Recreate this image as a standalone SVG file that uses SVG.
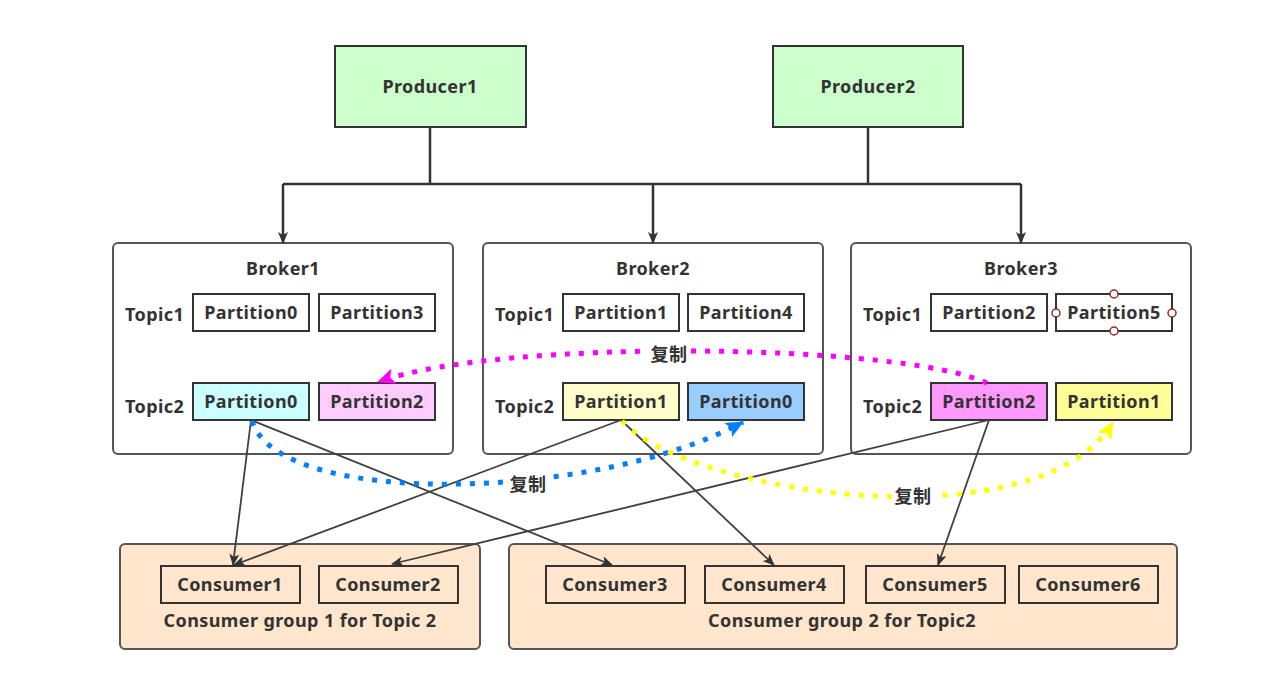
<svg xmlns="http://www.w3.org/2000/svg" width="1268" height="680" viewBox="0 0 1268 680">
<defs>
<marker id="arr" viewBox="0 0 12 10" refX="11" refY="5" markerWidth="12" markerHeight="10" markerUnits="userSpaceOnUse" orient="auto">
<path d="M0,0 L12,5 L0,10 L3,5 z" fill="#333"/>
</marker>
<marker id="arrM" viewBox="0 0 18 16" refX="17" refY="8" markerWidth="18" markerHeight="16" markerUnits="userSpaceOnUse" orient="auto">
<path d="M0,0 L18,8 L0,16 L4,8 z" fill="#ff00ff"/>
</marker>
<marker id="arrB" viewBox="0 0 18 16" refX="17" refY="8" markerWidth="18" markerHeight="16" markerUnits="userSpaceOnUse" orient="auto">
<path d="M0,0 L18,8 L0,16 L4,8 z" fill="#007fff"/>
</marker>
<marker id="arrY" viewBox="0 0 18 16" refX="17" refY="8" markerWidth="18" markerHeight="16" markerUnits="userSpaceOnUse" orient="auto">
<path d="M0,0 L18,8 L0,16 L4,8 z" fill="#ffff00"/>
</marker>
</defs>
<style>
text{font-family:"Noto Sans","Noto Sans CJK SC",sans-serif;font-weight:bold;font-size:18px;letter-spacing:0.4px;fill:#333;}
.c{text-anchor:middle;}
.box{stroke:#333;stroke-width:2;}
.broker{fill:#fff;stroke:#555;stroke-width:2;}
.grp{fill:#ffe6cc;stroke:#555;stroke-width:2;}
.ln{fill:none;stroke:#404040;stroke-width:1.8;}
.dot{fill:none;stroke-width:5;stroke-dasharray:5 9;}
.h{fill:#fff;stroke:#8b2a2a;stroke-width:1.5;}
</style>
<rect width="1268" height="680" fill="#fff"/>

<g id="producer1"><rect class="box" x="335" y="46" width="191" height="81" fill="#ccffcc"/><text class="c" x="430" y="93">Producer1</text></g>
<g id="producer2"><rect class="box" x="773" y="46" width="190" height="81" fill="#ccffcc"/><text class="c" x="868" y="93">Producer2</text></g>

<g id="broker1"><rect class="broker" x="113" y="243" width="340" height="211" rx="5"/>
<text class="c" x="283" y="275">Broker1</text>
<text x="125" y="321">Topic1</text><text x="125" y="413">Topic2</text>
<rect class="box" x="193" y="294" width="116" height="37" fill="#fff"/><text class="c" x="251" y="319">Partition0</text>
<rect class="box" x="319" y="294" width="116" height="37" fill="#fff"/><text class="c" x="377" y="319">Partition3</text>
<rect class="box" x="193" y="383" width="116" height="37" fill="#ccffff"/><text class="c" x="251" y="408">Partition0</text>
<rect class="box" x="319" y="383" width="116" height="37" fill="#ffccff"/><text class="c" x="377" y="408">Partition2</text>
</g>
<g id="broker2"><rect class="broker" x="483" y="243" width="340" height="211" rx="5"/>
<text class="c" x="653" y="275">Broker2</text>
<text x="495" y="321">Topic1</text><text x="495" y="413">Topic2</text>
<rect class="box" x="563" y="294" width="116" height="37" fill="#fff"/><text class="c" x="621" y="319">Partition1</text>
<rect class="box" x="688" y="294" width="116" height="37" fill="#fff"/><text class="c" x="746" y="319">Partition4</text>
<rect class="box" x="563" y="383" width="116" height="37" fill="#ffffcc"/><text class="c" x="621" y="408">Partition1</text>
<rect class="box" x="688" y="383" width="116" height="37" fill="#99ccff"/><text class="c" x="746" y="408">Partition0</text>
</g>
<g id="broker3"><rect class="broker" x="851" y="243" width="340" height="211" rx="5"/>
<text class="c" x="1021" y="275">Broker3</text>
<text x="863" y="321">Topic1</text><text x="863" y="413">Topic2</text>
<rect class="box" x="931" y="294" width="116" height="37" fill="#fff"/><text class="c" x="989" y="319">Partition2</text>
<rect class="box" x="1056" y="294" width="116" height="37" fill="#fff"/><text class="c" x="1114" y="319">Partition5</text>
<circle class="h" cx="1114" cy="294" r="4"/><circle class="h" cx="1114" cy="331" r="4"/><circle class="h" cx="1056" cy="313" r="4"/><circle class="h" cx="1172" cy="313" r="4"/>
<rect class="box" x="931" y="383" width="116" height="37" fill="#ff99ff"/><text class="c" x="989" y="408">Partition2</text>
<rect class="box" x="1056" y="383" width="116" height="37" fill="#ffff99"/><text class="c" x="1114" y="408">Partition1</text>
</g>

<g id="group1"><rect class="grp" x="120" y="544" width="360" height="105" rx="5"/>
<rect class="box" x="161" y="566" width="139" height="37" fill="none"/><text class="c" x="230" y="591">Consumer1</text>
<rect class="box" x="319" y="566" width="139" height="37" fill="none"/><text class="c" x="388" y="591">Consumer2</text>
<text class="c" x="300" y="627">Consumer group 1 for Topic 2</text>
</g>
<g id="group2"><rect class="grp" x="509" y="544" width="668" height="105" rx="5"/>
<rect class="box" x="546" y="566" width="139" height="37" fill="none"/><text class="c" x="615" y="591">Consumer3</text>
<rect class="box" x="705" y="566" width="139" height="37" fill="none"/><text class="c" x="774" y="591">Consumer4</text>
<rect class="box" x="866" y="566" width="139" height="37" fill="none"/><text class="c" x="935" y="591">Consumer5</text>
<rect class="box" x="1019" y="566" width="139" height="37" fill="none"/><text class="c" x="1088" y="591">Consumer6</text>
<text class="c" x="842" y="627">Consumer group 2 for Topic2</text>
</g>

<g id="connectors">
<path d="M430,127 V184 M868,127 V184 M283,184 H1021" fill="none" stroke="#333" stroke-width="2.5"/>
<path d="M283,184 V243" fill="none" stroke="#333" stroke-width="2.5" marker-end="url(#arr)"/>
<path d="M653,184 V243" fill="none" stroke="#333" stroke-width="2.5" marker-end="url(#arr)"/>
<path d="M1021,184 V243" fill="none" stroke="#333" stroke-width="2.5" marker-end="url(#arr)"/>

<path class="ln" d="M251,420 L233,565" marker-end="url(#arr)"/>
<path class="ln" d="M251,420 L612,565" marker-end="url(#arr)"/>
<path class="ln" d="M621,420 L234,565" marker-end="url(#arr)"/>
<path class="ln" d="M621,420 L774,565" marker-end="url(#arr)"/>
<path class="ln" d="M989,420 L392,564" marker-end="url(#arr)"/>
<path class="ln" d="M989,420 L938,565" marker-end="url(#arr)"/>

<path class="dot" stroke="#ff00ff" d="M987,383 C900,343 500,338 378,382" marker-end="url(#arrM)"/>
<path class="dot" stroke="#007fff" d="M252,421 C280,510 600,500 743,422" marker-end="url(#arrB)"/>
<path class="dot" stroke="#ffff00" d="M622,421 C690,495 1040,545 1113,422" marker-end="url(#arrY)"/>

<rect x="648" y="342" width="42" height="24" fill="#fff"/><text class="c" x="669" y="361">复制</text>
<rect x="507" y="473" width="42" height="24" fill="#fff"/><text class="c" x="528" y="491">复制</text>
<rect x="892" y="485" width="42" height="24" fill="#fff"/><text class="c" x="913" y="503">复制</text>
</g>
</svg>
